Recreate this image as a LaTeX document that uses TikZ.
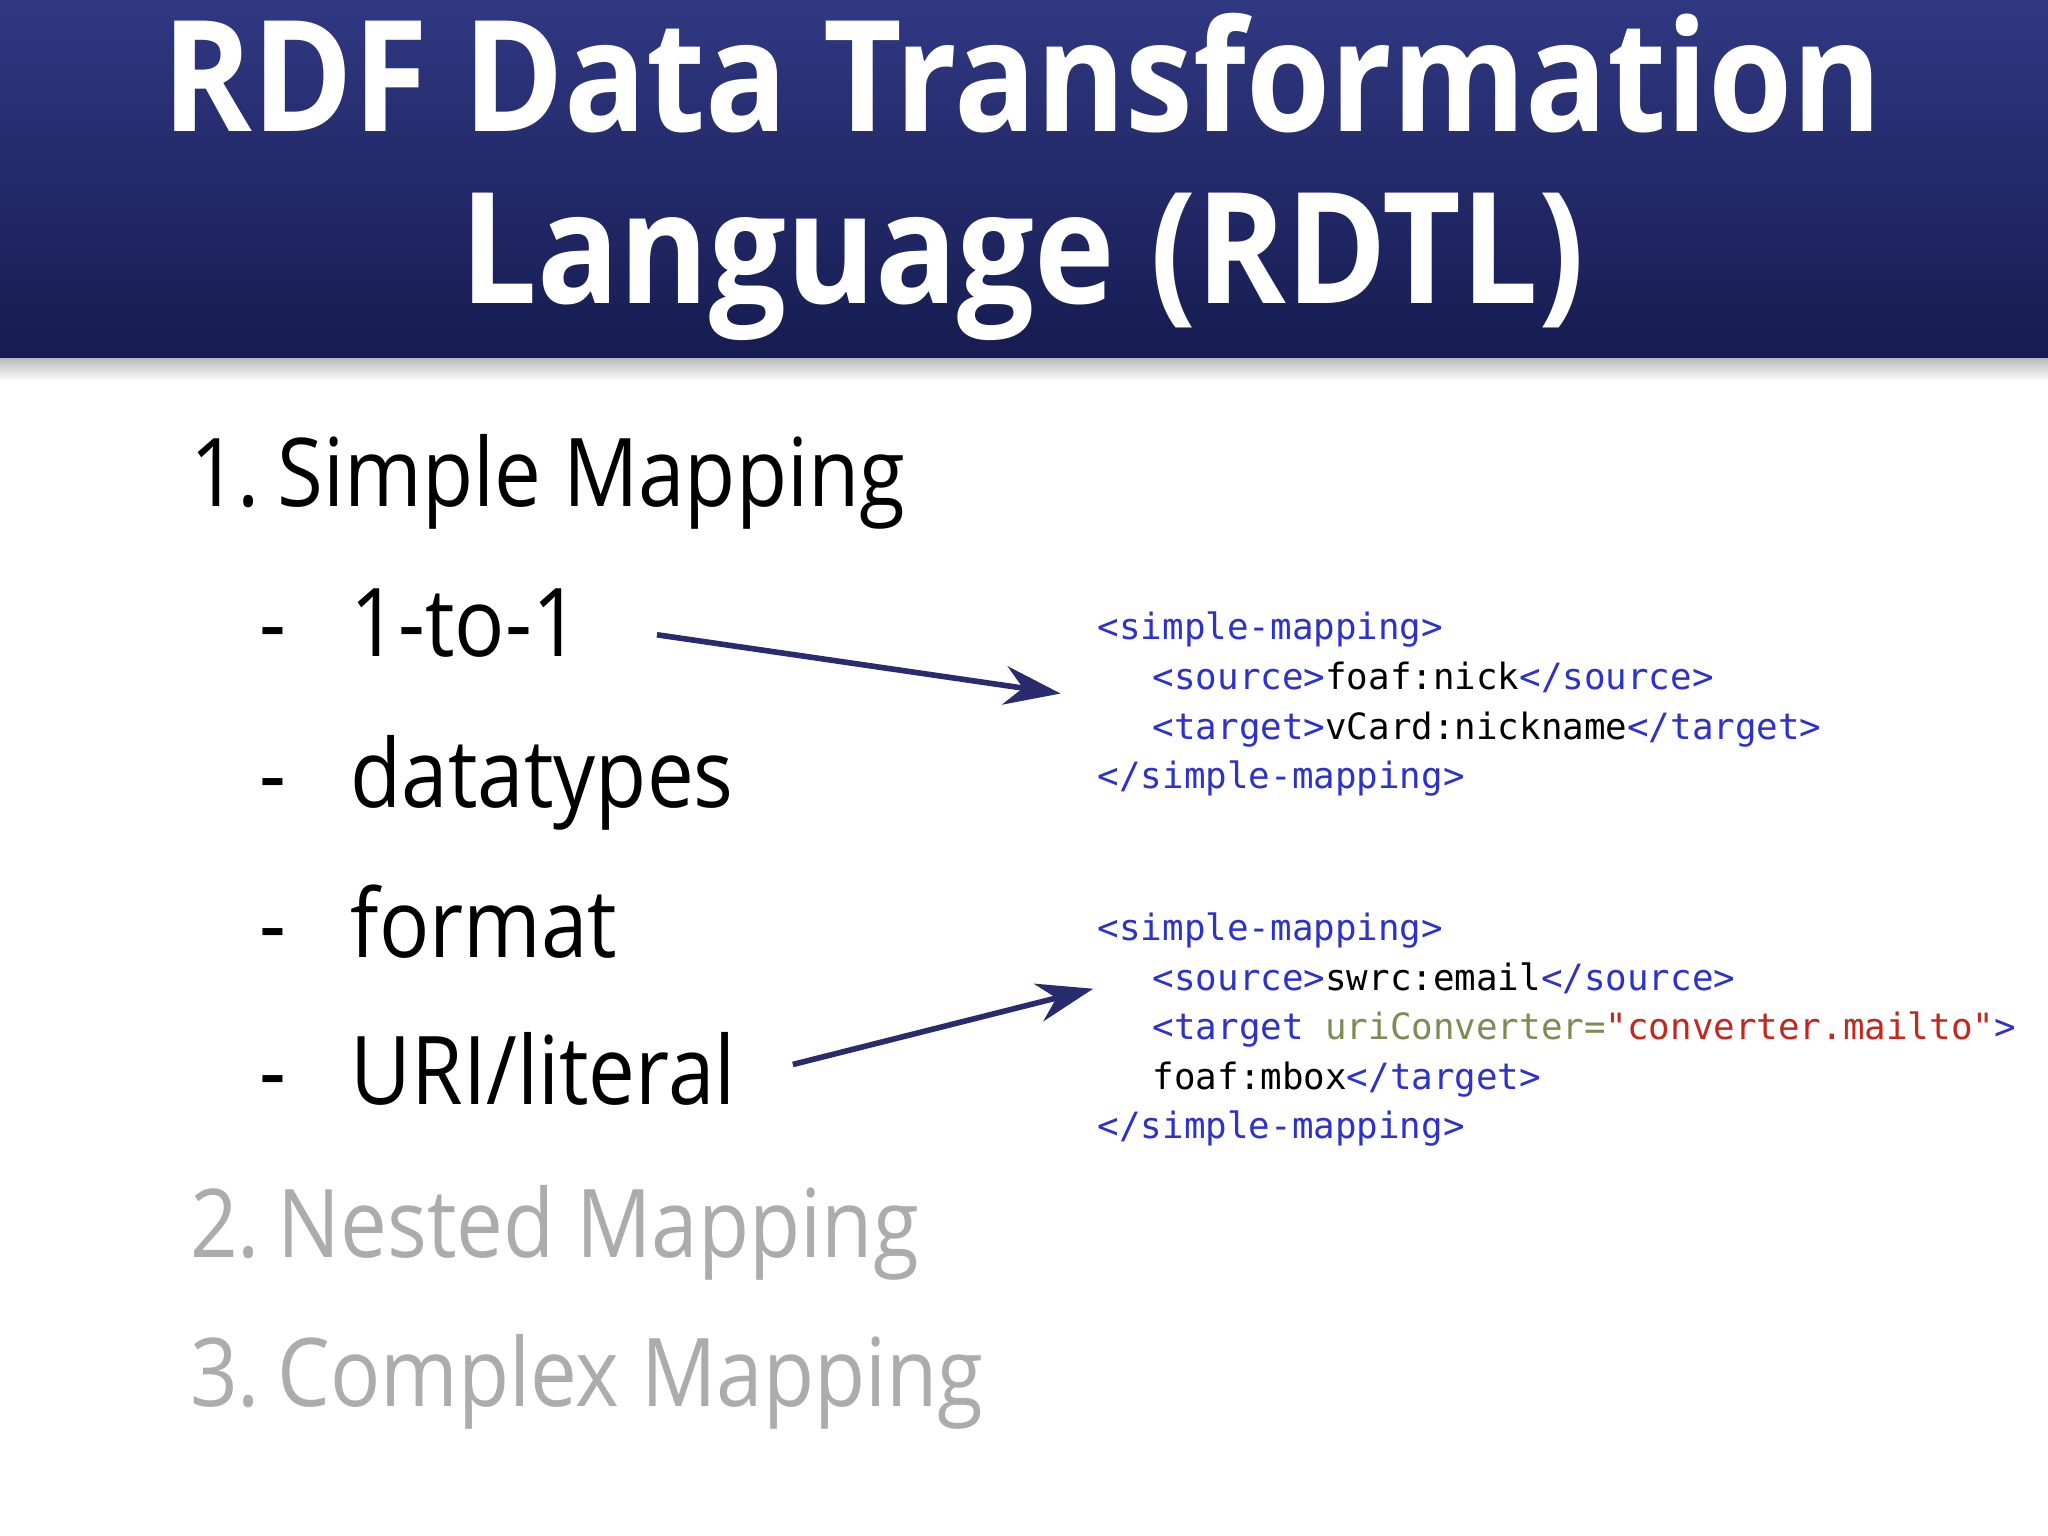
\documentclass[tikz,border=0pt]{standalone}
\usepackage{fontspec}
\setmainfont[FakeStretch=0.88]{Open Sans}
\newfontfamily\codefont[FakeStretch=0.99]{DejaVu Sans Mono}
\usetikzlibrary{arrows.meta,shadows}
\definecolor{navyA}{RGB}{48,56,130}
\definecolor{navyB}{RGB}{22,28,80}
\definecolor{arrowc}{RGB}{40,44,110}
\definecolor{tagc}{RGB}{45,50,200}
\definecolor{attrc}{RGB}{125,140,85}
\definecolor{strc}{RGB}{195,40,30}
\definecolor{greyt}{RGB}{172,172,172}
\newcommand{\tg}[1]{\textcolor{tagc}{#1}}
\begin{document}
\begin{tikzpicture}[x=0.013061cm,y=-0.013061cm,
  body/.style={anchor=base west,inner sep=0pt,font=\fontsize{27}{30}\selectfont},
  code/.style={anchor=base west,inner sep=0pt,font=\codefont\fontsize{10.3}{12}\selectfont},
  conn/.style={arrowc,line width=1.6pt,-{Stealth[length=16pt,width=11pt]}}]
\useasboundingbox (0,0) rectangle (1568,1176);
\fill[white] (0,0) rectangle (1568,1176);
\shade[top color=gray!60,bottom color=white] (0,272) rectangle (1568,292);
\shade[top color=navyA,bottom color=navyB] (0,0) rectangle (1568,274);
\node[anchor=base,text=white,font=\bfseries\fontsize{44}{48}\selectfont,inner sep=0pt] (t1) at (783,101) {RDF Data Transformation};
\node[anchor=base,text=white,font=\bfseries\fontsize{44}{48}\selectfont,inner sep=0pt] (t2) at (783,232) {Language (RDTL)};
\node[body] (i1) at (145,388) {1.\hspace{-0.12em} Simple Mapping};
\node[body] (d1) at (198,503) {-};
\node[body] (s1) at (268,503) {1-to-1};
\node[body] (d2) at (198,618) {-};
\node[body] (s2) at (268,618) {datatypes};
\node[body] (d3) at (198,733) {-};
\node[body] (s3) at (268,733) {format};
\node[body] (d4) at (198,846) {-};
\node[body] (s4) at (268,846) {URI/literal};
\node[body,text=greyt] (i2) at (145,963) {2.\hspace{-0.12em} Nested Mapping};
\node[body,text=greyt] (i3) at (145,1077) {3.\hspace{-0.12em} Complex Mapping};
\node[code] (a1) at (840,490) {\tg{<simple-mapping>}};
\node[code] (a2) at (882,528) {\tg{<source>}foaf:nick\tg{</source>}};
\node[code] (a3) at (882,566) {\tg{<target>}vCard:nickname\tg{</target>}};
\node[code] (a4) at (840,604) {\tg{</simple-mapping>}};
\node[code] (b1) at (840,720) {\tg{<simple-mapping>}};
\node[code] (b2) at (882,758) {\tg{<source>}swrc:email\tg{</source>}};
\node[code] (b3) at (882,796) {\tg{<target} \textcolor{attrc}{uriConverter=}\textcolor{strc}{"converter.mailto"}\tg{>}};
\node[code] (b4) at (882,834) {foaf:mbox\tg{</target>}};
\node[code] (b5) at (840,872) {\tg{</simple-mapping>}};
\coordinate (p1) at (503,486);
\coordinate (q1) at (812,531);
\coordinate (p2) at (607,815);
\coordinate (q2) at (837,757);
\draw[conn] (p1) -- (q1);
\draw[conn] (p2) -- (q2);
\end{tikzpicture}
\end{document}
